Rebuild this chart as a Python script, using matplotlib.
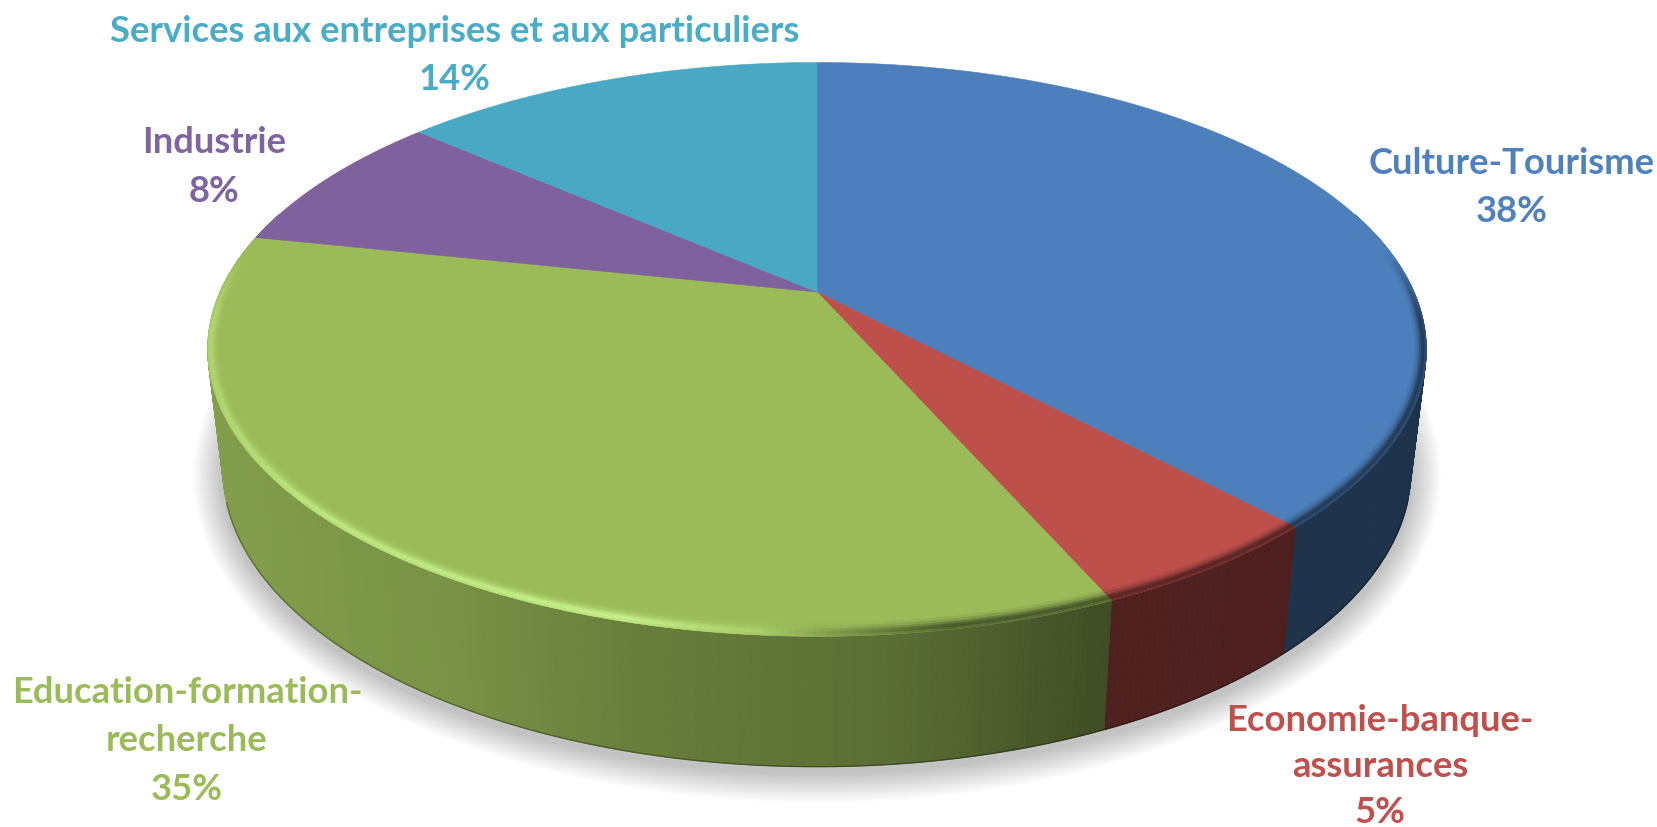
import numpy as np
import matplotlib
matplotlib.use('Agg')
import matplotlib.pyplot as plt
from matplotlib.collections import PolyCollection
from matplotlib.colors import to_rgb

### Data ###
categories = ['Culture-Tourisme', 'Economie-banque-\nassurances', 'Education-formation-\nrecherche',
              'Industrie', 'Services aux entreprises et aux particuliers']
values = [38, 5.4, 34.9, 8.1, 13.6]
pct_labels = ['38%', '5%', '35%', '8%', '14%']
colors = ['#4C7FBB', '#BE504C', '#9BBB59', '#7F619E', '#49A8C3']
text_colors = ['#4F81BD', '#C0504D', '#9BBB59', '#8064A2', '#4BACC6']
label_x = [1512, 1380, 187, 214, 455]
label_y = [163.5, 721, 692.5, 142.5, 31]
line_gap = [48.5, 46, 48.5, 48.5, 48.5]

### Constants ###
W, H = 1657, 828
CX, CY = 817, 293
A, B, K = 597, 275.4, 0.2
LOW_SX, LOW_SY, LOW_Y = 0.975, 1.036, 411
FONT_SIZE = 26.2


def top_xy(theta, r=1.0):
    # perspective view of the disc, theta runs clockwise from the top
    u = r * np.sin(theta)
    v = r * np.cos(theta)
    d = 1 + K * v
    return CX + A * u / d, CY - B * v / d


def low_xy(theta):
    x, y = top_xy(theta)
    return CX + (x - CX) * LOW_SX, LOW_Y + (y - CY) * LOW_SY


def shade(x):
    # side wall gets darker from left to right
    return np.interp(x, [222, 450, 620, 900, 1110, 1420], [0.84, 0.78, 0.68, 0.58, 0.41, 0.40])


def mix(c, other, t):
    return tuple(np.array(c) * (1 - t) + np.array(other) * t)


fig = plt.figure(figsize=(W / 100, H / 100), dpi=100)
ax = fig.add_axes([0, 0, 1, 1])
ax.set_xlim(0, W)
ax.set_ylim(H, 0)
ax.axis('off')

edges = np.cumsum([0] + values) / sum(values) * 2 * np.pi

### Shadow ###
t = np.linspace(0, 2 * np.pi, 361)
lx, ly = low_xy(t)
for e in np.linspace(30, 2, 15):
    sx = CX + (lx - CX) * (1 + e / 600)
    sy = LOW_Y + 60 + 6 + (ly - LOW_Y - 60) * (1 + e / 300)
    ax.fill(sx, sy, color='black', alpha=0.015, lw=0, zorder=1)

### Side wall ###
polys, cols = [], []
for i in range(len(values)):
    n = max(int((edges[i + 1] - edges[i]) / np.radians(0.5)), 2)
    th = np.linspace(edges[i], edges[i + 1], n + 1)
    base = to_rgb(colors[i])
    for a, b in zip(th[:-1], th[1:]):
        if np.cos((a + b) / 2) > 0.3:
            continue
        x1, y1 = top_xy(a)
        x2, y2 = top_xy(b)
        x3, y3 = low_xy(b)
        x4, y4 = low_xy(a)
        polys.append([(x1, y1), (x2, y2), (x3, y3), (x4, y4)])
        f = shade((x1 + x2) / 2)
        cols.append(tuple(np.array(base) * f))
        # thin darker line along the foot of the wall, only where the foot is really visible
        if np.cos((a + b) / 2) < -0.3:
            ax.plot([x3, x4], [y3, y4], color=tuple(np.array(base) * f * 0.7), lw=1.0, zorder=2.5,
                    solid_capstyle='butt')
ax.add_collection(PolyCollection(polys, facecolors=cols, edgecolors=cols, linewidths=0.6, zorder=2))

### Top face ###
for i in range(len(values)):
    th = np.linspace(edges[i], edges[i + 1], 300)
    x, y = top_xy(th)
    ax.fill(np.r_[CX, x], np.r_[CY, y], color=colors[i], lw=0.4, zorder=3)

### Bevel on the rim ###
polys, cols = [], []
steps = [0, 0.2, 0.4, 0.55, 0.7, 0.85, 1.0]
profile = [0.1, 0.3, 0.6, 0.9, 1.0, 0.8, 0.45]
for i in range(len(values)):
    n = max(int((edges[i + 1] - edges[i]) / np.radians(0.5)), 2)
    th = np.linspace(edges[i], edges[i + 1], n + 1)
    base = to_rgb(colors[i])
    for a, b in zip(th[:-1], th[1:]):
        m = (a + b) / 2
        u, v = np.sin(m), np.cos(m)
        px = top_xy(m)[0]
        strength = np.clip((0.15 - v) / 0.25, 0, 1)
        if strength == 0:
            continue
        width = 11 / np.hypot(A * u, B * v * 1.3)
        light = np.interp(px, [207, 300, 620, 760, 900, 1420], [0.5, 0.8, 1.0, 0.35, 0.0, 0.0])
        dark = np.interp(px, [760, 950, 1420], [0.0, 1.0, 1.0])
        for j in range(len(steps) - 1):
            r1 = 1 - width * (1 - steps[j])
            r2 = 1 - width * (1 - steps[j + 1])
            x1, y1 = top_xy(a, r1)
            x2, y2 = top_xy(b, r1)
            x3, y3 = top_xy(b, r2)
            x4, y4 = top_xy(a, r2)
            polys.append([(x1, y1), (x2, y2), (x3, y3), (x4, y4)])
            p = profile[j] * strength
            c = mix(base, (0.78, 0.95, 0.55) if i == 2 else base, p * light)
            c = mix(c, np.array(base) * 0.4, p * dark * 0.9)
            cols.append(c)
ax.add_collection(PolyCollection(polys, facecolors=cols, edgecolors=cols, linewidths=0.3, zorder=4))

### Labels ###
for name, pct, col, x, y, gap in zip(categories, pct_labels, text_colors, label_x, label_y, line_gap):
    lines = name.split('\n') + [pct]
    for j, line in enumerate(lines):
        ax.text(x, y + j * gap, line, color=col, ha='center', va='center',
                family=['Lato', 'DejaVu Sans'], weight='bold', fontsize=FONT_SIZE, zorder=5)

fig.savefig('out.png', dpi=100, facecolor='white')
